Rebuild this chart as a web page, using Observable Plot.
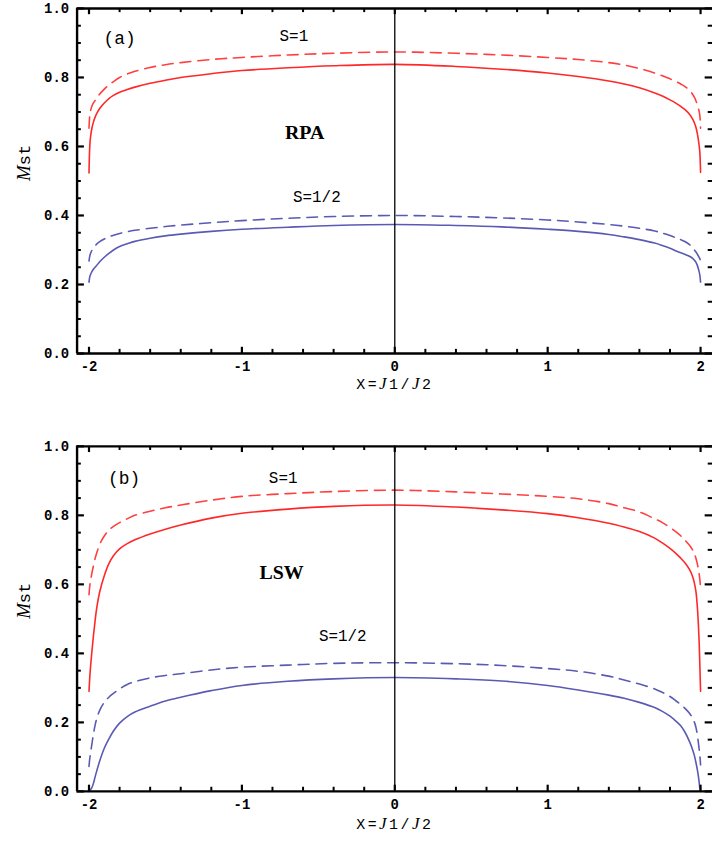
<!DOCTYPE html>
<html><head><meta charset="utf-8">
<script src="https://cdn.jsdelivr.net/npm/d3@7"></script>
<script src="https://cdn.jsdelivr.net/npm/@observablehq/plot@0.6"></script>
<style>
body{margin:0;background:#fff}
#wrap{width:712px;height:856px;overflow:hidden;position:relative;background:#fff}
#wrap svg{display:block}
</style>
</head><body><div id="wrap"></div>
<script>
// ---- data ----
const xs = [-2,-1.995,-1.99,-1.98,-1.97,-1.96,-1.95,-1.93,-1.9,-1.87,-1.84,-1.8,-1.75,-1.7,-1.6,-1.5,-1.4,-1.2,-1.0,-0.7,-0.4,0,
            0.4,0.7,1.0,1.2,1.4,1.5,1.6,1.7,1.75,1.8,1.84,1.87,1.9,1.93,1.95,1.96,1.97,1.98,1.99,1.995,2];

// panel (a) RPA
const rpaS1Solid = [0.523,0.60,0.628,0.655,0.672,0.685,0.695,0.71,0.726,0.739,0.748,0.757,0.765,0.772,0.783,0.792,0.80,0.811,0.82,0.828,0.834,0.838,
                    0.832,0.824,0.813,0.803,0.79,0.781,0.77,0.755,0.746,0.735,0.725,0.716,0.706,0.692,0.678,0.668,0.655,0.635,0.605,0.585,0.525];
const rpaS1Dashed = [0.653,0.69,0.703,0.718,0.727,0.733,0.738,0.752,0.766,0.778,0.788,0.80,0.81,0.818,0.829,0.837,0.843,0.852,0.858,0.865,0.87,0.874,
                     0.87,0.865,0.858,0.852,0.843,0.836,0.826,0.813,0.805,0.796,0.788,0.781,0.773,0.762,0.75,0.742,0.732,0.72,0.703,0.69,0.653];
const rpaHalfSolid = [0.207,0.222,0.229,0.238,0.245,0.25,0.255,0.266,0.279,0.29,0.30,0.31,0.318,0.325,0.334,0.341,0.346,0.354,0.36,0.366,0.371,0.374,
                      0.371,0.367,0.36,0.354,0.345,0.338,0.33,0.32,0.313,0.305,0.297,0.292,0.287,0.281,0.275,0.27,0.264,0.254,0.238,0.228,0.207];
const rpaHalfDashed = [0.268,0.282,0.29,0.30,0.307,0.312,0.317,0.324,0.332,0.338,0.343,0.348,0.353,0.357,0.363,0.368,0.372,0.379,0.385,0.392,0.397,0.40,
                       0.397,0.393,0.387,0.381,0.374,0.369,0.363,0.355,0.349,0.342,0.335,0.33,0.324,0.315,0.306,0.30,0.294,0.287,0.279,0.275,0.268];

// panel (b) LSW
const lswS1Solid = [0.29,0.33,0.36,0.41,0.455,0.495,0.53,0.578,0.625,0.66,0.683,0.703,0.718,0.729,0.746,0.76,0.772,0.792,0.806,0.818,0.826,0.83,
                    0.824,0.816,0.805,0.793,0.777,0.766,0.753,0.734,0.72,0.704,0.689,0.676,0.661,0.641,0.62,0.603,0.578,0.528,0.44,0.37,0.29];
const lswS1Dashed = [0.57,0.595,0.61,0.635,0.656,0.675,0.69,0.716,0.74,0.757,0.768,0.779,0.79,0.80,0.812,0.822,0.83,0.844,0.855,0.863,0.869,0.873,
                     0.868,0.862,0.855,0.848,0.834,0.822,0.81,0.79,0.779,0.765,0.752,0.741,0.727,0.712,0.698,0.688,0.675,0.657,0.632,0.615,0.59];
const lswHalfSolid = [0,0.002,0.005,0.012,0.025,0.042,0.058,0.088,0.125,0.152,0.175,0.198,0.217,0.23,0.247,0.262,0.273,0.292,0.307,0.319,0.326,0.33,
                      0.326,0.32,0.307,0.294,0.279,0.27,0.258,0.243,0.232,0.218,0.203,0.19,0.17,0.142,0.118,0.103,0.083,0.06,0.03,0.01,0];
const lswHalfDashed = [0.072,0.095,0.11,0.14,0.168,0.192,0.21,0.235,0.258,0.273,0.284,0.297,0.31,0.318,0.329,0.336,0.341,0.352,0.36,0.366,0.371,0.373,
                       0.37,0.365,0.356,0.348,0.334,0.323,0.311,0.297,0.287,0.275,0.262,0.252,0.24,0.225,0.21,0.20,0.185,0.16,0.125,0.105,0.077];

// ticks
const xTickLabels = [-2,-1,0,1,2];
const xMajorTicks = [-2,-1,0,1,2];
const xMinorTicks = [-1.8,-1.6,-1.4,-1.2,-0.8,-0.6,-0.4,-0.2,0.2,0.4,0.6,0.8,1.2,1.4,1.6,1.8];
const yTickLabels = [0,0.2,0.4,0.6,0.8,1.0];
const yMinorTicks = [0.05,0.1,0.15,0.25,0.3,0.35,0.45,0.5,0.55,0.65,0.7,0.75,0.85,0.9,0.95];

// annotation text
const aLabels = ["(a)","S=1","RPA","S=1/2"];
const aLabelX = [-1.80,-0.66,-0.59,-0.51];
const aLabelY = [0.915,0.92,0.64,0.455];
const bLabels = ["(b)","S=1","LSW","S=1/2"];
const bLabelX = [-1.77,-0.73,-0.74,-0.34];
const bLabelY = [0.908,0.908,0.634,0.45];

const xAxisTitle = "X=J1/J2";
const yAxisTitle = "Mst";

// ---- drawing ----
const RED = "#ff2828", RED_D = "#ff4040", BLUE = "#5a5ab4";
const X0 = -2.078, X1 = 2.078;
const MONO = "Liberation Mono", SERIF = "Liberation Serif";

function panel(opts) {
  const {series, labels, lx, ly, height, marginTop, marginBottom, xTitleDy} = opts;
  const lineMarks = series.map(s => Plot.line(xs.map((x, i) => ({x, y: s.vals[i]})), {
    x: "x", y: "y", stroke: s.color, strokeWidth: 1.6,
    strokeDasharray: s.dashed ? "11,7" : null, curve: "catmull-rom"
  }));
  const labelRows = labels.map((t, i) => ({t, x: lx[i], y: ly[i], i}));
  const plot = Plot.plot({
    width: 716, height, marginLeft: 77, marginRight: 0, marginTop, marginBottom,
    x: {domain: [X0, X1]},
    y: {domain: [0, 1]},
    style: {fontFamily: MONO, fontSize: "14px", color: "black", background: "white", overflow: "visible"},
    marks: [
      Plot.axisX({ticks: xTickLabels, tickSize: 0, tickPadding: 8, label: null, tickFormat: d => d < 0 ? "-" + Math.abs(d) : String(d), fontSize: 14, fontWeight: "bold"}),
      Plot.axisY({ticks: yTickLabels, tickSize: 0, tickPadding: 8, label: null, tickFormat: d3.format(".1f"), fontSize: 14, fontWeight: "bold"}),
      ...lineMarks,
      Plot.ruleX([0], {y1: 0, y2: 1, stroke: "black", strokeWidth: 1.3}),
      // frame
      Plot.ruleY([0, 1], {stroke: "black", strokeWidth: 2.4}),
      Plot.ruleX([X0], {stroke: "black", strokeWidth: 2.4}),
      // inward ticks bottom/top
      Plot.ruleX(xMajorTicks, {x: d => d, y1: 0, y2: 0.018, stroke: "black", strokeWidth: 2.2}),
      Plot.ruleX(xMinorTicks, {x: d => d, y1: 0, y2: 0.012, stroke: "black", strokeWidth: 2}),
      Plot.ruleX(xMajorTicks, {x: d => d, y1: 1, y2: 0.982, stroke: "black", strokeWidth: 2.2}),
      Plot.ruleX(xMinorTicks, {x: d => d, y1: 1, y2: 0.988, stroke: "black", strokeWidth: 2}),
      // inward ticks left/right
      Plot.ruleY(yTickLabels, {y: d => d, x1: X0, x2: X0 + 0.048, stroke: "black", strokeWidth: 2.2}),
      Plot.ruleY(yMinorTicks, {y: d => d, x1: X0, x2: X0 + 0.028, stroke: "black", strokeWidth: 2}),
      Plot.ruleY(yTickLabels, {y: d => d, x1: X1, x2: X1 - 0.048, stroke: "black", strokeWidth: 2.2}),
      Plot.ruleY(yMinorTicks, {y: d => d, x1: X1, x2: X1 - 0.028, stroke: "black", strokeWidth: 2}),
      // annotations
      Plot.text(labelRows.filter(d => d.i === 0), {x: "x", y: "y", text: "t", fontFamily: MONO, fontSize: 18}),
      Plot.text(labelRows.filter(d => d.i === 1 || d.i === 3), {x: "x", y: "y", text: "t", fontFamily: MONO, fontSize: 16}),
      Plot.text(labelRows.filter(d => d.i === 2), {x: "x", y: "y", text: "t", fontFamily: SERIF, fontSize: 20, fontWeight: "bold"}),
      // axis titles
      Plot.text([xAxisTitle], {frameAnchor: "bottom", dy: xTitleDy, lineAnchor: "middle", fontSize: 15}),
      Plot.text([yAxisTitle], {frameAnchor: "left", dx: -53, rotate: -90, lineAnchor: "middle", fontSize: 17})
    ]
  });
  const svg = d3.select(plot);
  svg.selectAll("text").filter(function() { return this.textContent === yAxisTitle; })
    .each(function() {
      const t = d3.select(this); t.text(null);
      t.append("tspan").attr("font-style", "italic").attr("font-family", SERIF).attr("font-size", 19).text("M");
      t.append("tspan").text("st");
    });
  svg.selectAll("text").filter(function() { return this.textContent === xAxisTitle; })
    .each(function() {
      const t = d3.select(this); t.text(null).attr("letter-spacing", 2.5);
      t.append("tspan").text("X=");
      t.append("tspan").attr("font-style", "italic").attr("font-family", SERIF).attr("font-size", 17).text("J");
      t.append("tspan").text("1/");
      t.append("tspan").attr("font-style", "italic").attr("font-family", SERIF).attr("font-size", 17).text("J");
      t.append("tspan").text("2");
    });
  return plot;
}

const wrap = document.getElementById("wrap");
wrap.appendChild(panel({
  series: [
    {vals: rpaS1Solid, color: RED, dashed: false},
    {vals: rpaS1Dashed, color: RED_D, dashed: true},
    {vals: rpaHalfSolid, color: BLUE, dashed: false},
    {vals: rpaHalfDashed, color: BLUE, dashed: true}
  ],
  labels: aLabels, lx: aLabelX, ly: aLabelY,
  height: 420, marginTop: 8, marginBottom: 65, xTitleDy: 31
}));
wrap.appendChild(panel({
  series: [
    {vals: lswS1Solid, color: RED, dashed: false},
    {vals: lswS1Dashed, color: RED_D, dashed: true},
    {vals: lswHalfSolid, color: BLUE, dashed: false},
    {vals: lswHalfDashed, color: BLUE, dashed: true}
  ],
  labels: bLabels, lx: bLabelX, ly: bLabelY,
  height: 436, marginTop: 28, marginBottom: 61, xTitleDy: 33
}));
</script>
</body></html>
